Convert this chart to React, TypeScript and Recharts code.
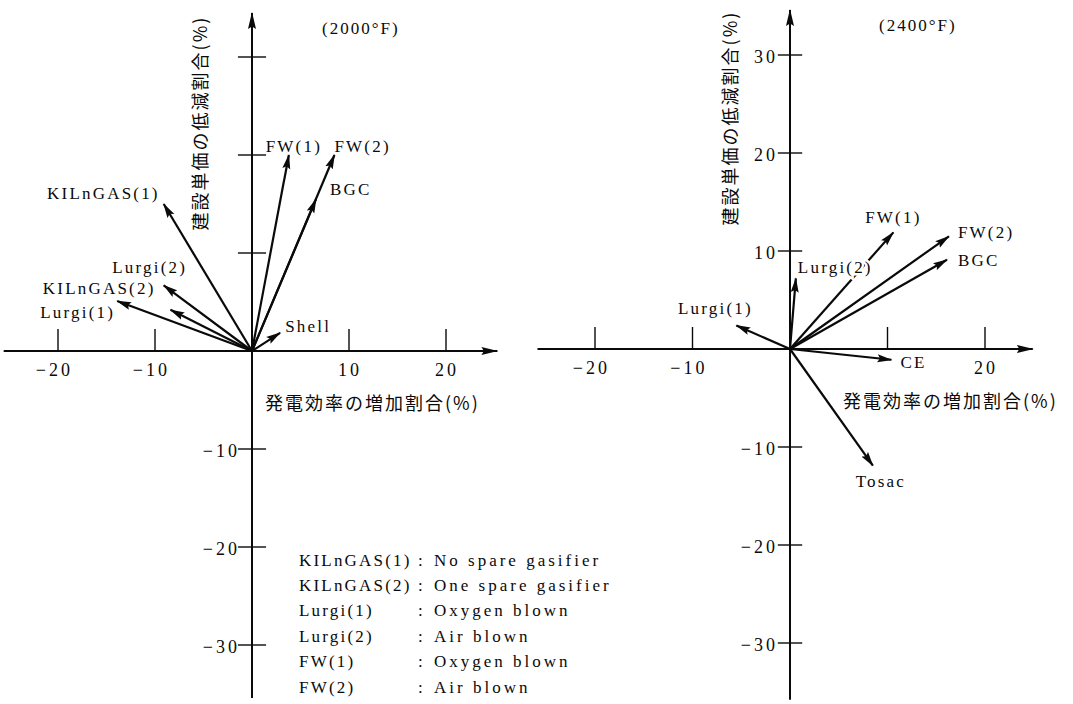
import React from "react";
import { LineChart, Line, XAxis, YAxis, ReferenceLine, ReferenceDot } from "recharts";

// 2000°F : efficiency increase (%) vs. construction cost reduction (%)
const leftNames = ["KILnGAS(1)", "KILnGAS(2)", "Lurgi(1)", "Lurgi(2)", "FW(1)", "FW(2)", "BGC", "Shell"];
const leftEff = [-9.1, -8.4, -13.9, -9.1, 3.8, 8.5, 6.6, 2.9];
const leftCost = [15.0, 4.2, 5.1, 6.7, 20.0, 20.0, 15.5, 1.85];

// 2400°F
const rightNames = ["Lurgi(1)", "Lurgi(2)", "FW(1)", "FW(2)", "BGC", "CE", "Tosac"];
const rightEff = [-5.5, 0.6, 10.6, 16.3, 16.1, 10.4, 8.5];
const rightCost = [2.4, 7.2, 11.9, 11.5, 9.1, -1.1, -11.9];

const xTicks = [-20, -10, 10, 20];
const yTicks = [30, 20, 10, -10, -20, -30];
const leftXLabels = [-20, -10, 10, 20];
const leftYLabels = [-10, -20, -30];
const rightXLabels = [-20, -10, 20];
const rightYLabels = [30, 20, 10, -10, -20, -30];

const legendNames = ["KILnGAS(1)", "KILnGAS(2)", "Lurgi(1)", "Lurgi(2)", "FW(1)", "FW(2)"];
const legendDesc = ["No spare gasifier", "One spare gasifier", "Oxygen blown", "Air blown", "Oxygen blown", "Air blown"];

const xTitle = "発電効率の増加割合(%)";
const yTitle = "建設単価の低減割合(%)";

type Anchor = "start" | "middle" | "end";
// label offset from arrow tip, in px
const leftLabelPos: Record<string, [number, number, Anchor]> = {
  "KILnGAS(1)": [-4, -11, "end"],
  "KILnGAS(2)": [-15, -21, "end"],
  "Lurgi(1)": [-2, 11, "end"],
  "Lurgi(2)": [-14, -18, "middle"],
  "FW(1)": [5, -9, "middle"],
  "FW(2)": [0, -9, "start"],
  BGC: [14, -10, "start"],
  Shell: [5, -6, "start"],
};
const rightLabelPos: Record<string, [number, number, Anchor]> = {
  "Lurgi(1)": [-21, -17, "middle"],
  "Lurgi(2)": [2, -11, "start"],
  "FW(1)": [0, -15, "middle"],
  "FW(2)": [9, -4, "start"],
  BGC: [11, 1, "start"],
  CE: [9, 3, "start"],
  Tosac: [8, 16, "middle"],
};

const INK = "#0a0a0a";
const SERIF = "'Liberation Serif', 'DejaVu Serif', serif";
const JP = "'Noto Sans CJK JP', sans-serif";
const H = 704;

type PanelProps = {
  left: number;
  width: number;
  ox: number;
  oy: number;
  sx: number;
  sy: number;
  xAxisExt: [number, number];
  yAxisExt: [number, number];
  yTickHalf: number;
  names: string[];
  eff: number[];
  cost: number[];
  labelPos: Record<string, [number, number, Anchor]>;
  xLabels: number[];
  yLabels: number[];
  haloLabels?: boolean;
};

const textShape =
  (text: string, dx: number, dy: number, anchor: Anchor, extra: any = {}) =>
  (p: any) =>
    (
      <text
        x={p.cx + dx}
        y={p.cy + dy}
        textAnchor={anchor}
        dominantBaseline="central"
        fontFamily={SERIF}
        fontSize={17}
        letterSpacing={2.2}
        fill={INK}
        {...extra}
      >
        {text}
      </text>
    );

const num = (t: number) => (t < 0 ? "−" + Math.abs(t) : String(t));

function Panel(props: PanelProps) {
  const { left, width, ox, oy, sx, sy } = props;
  const xDomain = [-ox / sx, (width - ox) / sx];
  const yDomain = [-(H - oy) / sy, oy / sy];
  const tickUp = 22 / sy;
  const tickFont = { fontSize: 18, letterSpacing: 3 };

  return (
    <div style={{ position: "absolute", left, top: 0 }}>
      <LineChart width={width} height={H} margin={{ top: 0, right: 0, bottom: 0, left: 0 }}>
        <XAxis type="number" dataKey="x" domain={xDomain} allowDataOverflow hide />
        <YAxis type="number" dataKey="y" domain={yDomain} allowDataOverflow hide />

        <ReferenceLine
          segment={[{ x: props.xAxisExt[0], y: 0 }, { x: props.xAxisExt[1], y: 0 }]}
          stroke={INK}
          strokeWidth={2}
          markerEnd="url(#axisHead)"
          ifOverflow="visible"
        />
        <ReferenceLine
          segment={[{ x: 0, y: props.yAxisExt[0] }, { x: 0, y: props.yAxisExt[1] }]}
          stroke={INK}
          strokeWidth={2}
          markerEnd="url(#axisHead)"
          ifOverflow="visible"
        />
        {xTicks.map((t) => (
          <ReferenceLine
            key={"xt" + t}
            segment={[{ x: t, y: 0 }, { x: t, y: tickUp }]}
            stroke={INK}
            strokeWidth={1.4}
            ifOverflow="visible"
          />
        ))}
        {yTicks.map((t) => (
          <ReferenceLine
            key={"yt" + t}
            segment={[{ x: -props.yTickHalf, y: t }, { x: props.yTickHalf, y: t }]}
            stroke={INK}
            strokeWidth={1.4}
            ifOverflow="visible"
          />
        ))}
        {props.xLabels.map((t) => (
          <ReferenceDot
            key={"xl" + t}
            x={t}
            y={0}
            r={0}
            ifOverflow="visible"
            shape={textShape(num(t), t < 0 ? 15 : 1, 19, t < 0 ? "end" : "middle", tickFont)}
          />
        ))}
        {props.yLabels.map((t) => (
          <ReferenceDot
            key={"yl" + t}
            x={0}
            y={t}
            r={0}
            ifOverflow="visible"
            shape={textShape(num(t), -12, 2, "end", tickFont)}
          />
        ))}

        {props.names.map((n, i) => (
          <Line
            key={n}
            data={[
              { x: 0, y: 0 },
              { x: props.eff[i], y: props.cost[i] },
            ]}
            dataKey="y"
            stroke={INK}
            strokeWidth={2.2}
            dot={false}
            activeDot={false}
            legendType="none"
            markerEnd="url(#vecHead)"
            isAnimationActive={false}
          />
        ))}
        {props.names.map((n, i) => {
          const [dx, dy, anchor] = props.labelPos[n];
          const halo = props.haloLabels ? { stroke: "#fff", strokeWidth: 5, paintOrder: "stroke" } : {};
          return (
            <ReferenceDot
              key={"lab" + n}
              x={props.eff[i]}
              y={props.cost[i]}
              r={0}
              ifOverflow="visible"
              shape={textShape(n, dx, dy, anchor, halo)}
            />
          );
        })}
      </LineChart>
    </div>
  );
}

export default function App() {
  return (
    <div style={{ position: "relative", width: 1073, height: H, background: "#fff", overflow: "hidden" }}>
      <style>{"body{margin:0}"}</style>
      <svg width={0} height={0} style={{ position: "absolute" }}>
        <defs>
          <marker id="vecHead" viewBox="0 0 15 9" refX="14" refY="4.5" markerWidth="15" markerHeight="9" orient="auto" markerUnits="userSpaceOnUse">
            <path d="M0,0.5 L15,4.5 L0,8.5 L2.5,4.5 z" fill={INK} />
          </marker>
          <marker id="axisHead" viewBox="0 0 17 9" refX="16" refY="4.5" markerWidth="17" markerHeight="9" orient="auto" markerUnits="userSpaceOnUse">
            <path d="M0,0.5 L17,4.5 L0,8.5 L2.5,4.5 z" fill={INK} />
          </marker>
        </defs>
      </svg>

      <Panel
        left={0}
        width={510}
        ox={252}
        oy={351}
        sx={9.7}
        sy={9.8}
        xAxisExt={[-25.6, 25.3]}
        yAxisExt={[-35.4, 34.5]}
        yTickHalf={1.45}
        names={leftNames}
        eff={leftEff}
        cost={leftCost}
        labelPos={leftLabelPos}
        xLabels={leftXLabels}
        yLabels={leftYLabels}
      />
      <Panel
        left={530}
        width={543}
        ox={260}
        oy={349}
        sx={9.75}
        sy={9.8}
        xAxisExt={[-25.9, 24.9]}
        yAxisExt={[-35.8, 34.6]}
        yTickHalf={1.25}
        names={rightNames}
        eff={rightEff}
        cost={rightCost}
        labelPos={rightLabelPos}
        xLabels={rightXLabels}
        yLabels={rightYLabels}
        haloLabels
      />

      <svg width={1073} height={H} style={{ position: "absolute", left: 0, top: 0, pointerEvents: "none" }}>
        <text x={322} y={28} dominantBaseline="central" fontFamily={SERIF} fontSize={17} letterSpacing={2} fill={INK}>
          (2000°F)
        </text>
        <text x={879} y={25} dominantBaseline="central" fontFamily={SERIF} fontSize={17} letterSpacing={2} fill={INK}>
          (2400°F)
        </text>
        <text x={265} y={402} dominantBaseline="central" fontFamily={JP} fontSize={18} letterSpacing={2} fill={INK}>
          {xTitle}
        </text>
        <text x={843} y={400} dominantBaseline="central" fontFamily={JP} fontSize={18} letterSpacing={2} fill={INK}>
          {xTitle}
        </text>
        <text transform="translate(199,123) rotate(-90)" textAnchor="middle" dominantBaseline="central" fontFamily={JP} fontSize={18} letterSpacing={2} fill={INK}>
          {yTitle}
        </text>
        <text transform="translate(729,118) rotate(-90)" textAnchor="middle" dominantBaseline="central" fontFamily={JP} fontSize={18} letterSpacing={2} fill={INK}>
          {yTitle}
        </text>
        {legendNames.map((n, i) => (
          <g key={n + i} fontFamily={SERIF} fontSize={17} fill={INK}>
            <text x={299} y={560 + i * 25.4} dominantBaseline="central" letterSpacing={2.2}>
              {n}
            </text>
            <text x={418} y={560 + i * 25.4} dominantBaseline="central">
              :
            </text>
            <text x={434} y={560 + i * 25.4} dominantBaseline="central" letterSpacing={3}>
              {legendDesc[i]}
            </text>
          </g>
        ))}
      </svg>
    </div>
  );
}
